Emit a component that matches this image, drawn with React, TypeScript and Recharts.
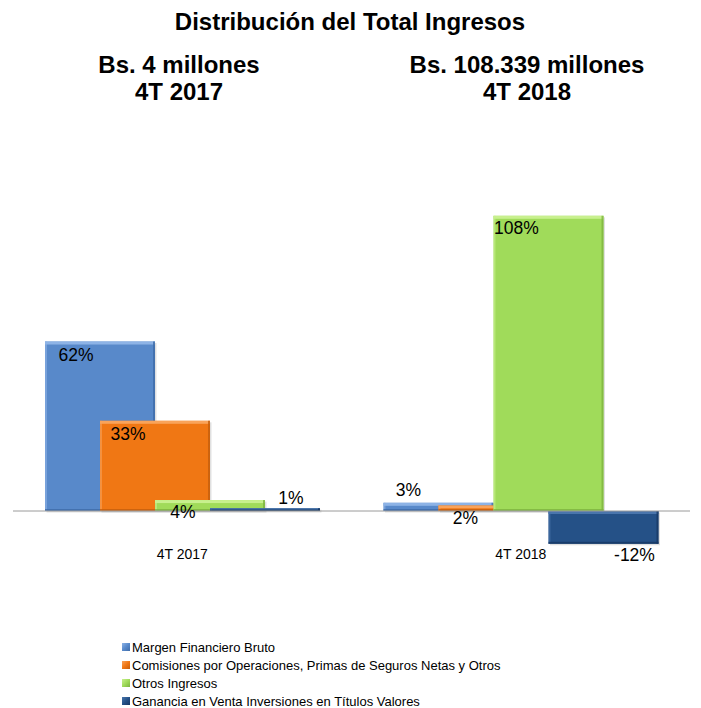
import React from 'react';
import { BarChart, Bar, XAxis, YAxis, ReferenceLine, Legend, LabelList } from 'recharts';

const categories = ['4T 2017', '4T 2018'];
const margenFinanciero = [62, 3];
const comisiones = [33, 2];
const otrosIngresos = [4, 108];
const gananciaVenta = [1, -12];

const seriesNames = [
  'Margen Financiero Bruto',
  'Comisiones por Operaciones, Primas de Seguros Netas y Otros',
  'Otros Ingresos',
  'Ganancia en Venta Inversiones en Títulos Valores',
];

const seriesKeys = ['s0', 's1', 's2', 's3'];
const seriesValues = [margenFinanciero, comisiones, otrosIngresos, gananciaVenta];

const palette = [
  { base: '#5889CA', light: '#8DB3E6', dark: '#3F6CA8' },
  { base: '#F07714', light: '#F9A35A', dark: '#C45E0C' },
  { base: '#A0DB5A', light: '#C8F08E', dark: '#7DB33F' },
  { base: '#255187', light: '#4A75AC', dark: '#173763' },
];

// label placement relative to each bar (layout, not data)
const labelLayout: Record<string, { ref: 'top' | 'bottom'; dx: number; dy: number }[]> = {
  s0: [
    { ref: 'top', dx: 31, dy: 13 },
    { ref: 'top', dx: 25, dy: -13 },
  ],
  s1: [
    { ref: 'top', dx: 28, dy: 13 },
    { ref: 'bottom', dx: 27, dy: 7 },
  ],
  s2: [
    { ref: 'bottom', dx: 28, dy: 1 },
    { ref: 'top', dx: 23, dy: 12 },
  ],
  s3: [
    { ref: 'top', dx: 81, dy: -10 },
    { ref: 'bottom', dx: 86, dy: 11 },
  ],
};

const data = categories.map((category, i) => {
  const row: Record<string, string | number> = { category };
  seriesKeys.forEach((k, s) => {
    row[k] = seriesValues[s][i];
  });
  return row;
});

const FONT = '"Liberation Sans", Arial, sans-serif';

const makeShape = (idx: number) => (props: any) => {
  const { x, y, width, height } = props;
  const top = Math.min(y, y + height);
  const h = Math.abs(height);
  const c = palette[idx];
  if (!h || !width) return <g />;
  const edge = Math.min(2, h / 2);
  return (
    <g>
      <rect x={x + 1.5} y={top + 1.5} width={width} height={h} fill="rgba(0,0,0,0.12)" />
      <rect x={x} y={top} width={width} height={h} fill={c.base} />
      <rect x={x} y={top} width={width} height={Math.min(3, h / 2)} fill={c.light} />
      <rect x={x} y={top} width={2} height={h} fill={c.light} opacity={0.6} />
      <rect x={x + width - 2} y={top} width={2} height={h} fill={c.dark} opacity={0.8} />
      <rect x={x} y={top + h - edge} width={width} height={edge} fill={c.dark} opacity={0.8} />
    </g>
  );
};

const makeLabel = (key: string) => (props: any) => {
  const { x, y, width, height, value, index } = props;
  const top = Math.min(y, y + height);
  const bottom = Math.max(y, y + height);
  const lay = labelLayout[key][index];
  const ly = (lay.ref === 'top' ? top : bottom) + lay.dy;
  return (
    <text
      x={x + lay.dx}
      y={ly}
      textAnchor="middle"
      dominantBaseline="central"
      fontSize={17.5}
      fill="#000"
      fontFamily={FONT}
    >
      {`${value}%`}
    </text>
  );
};

const CategoryTick = (props: any) => {
  const { x, y, payload } = props;
  return (
    <text x={x} y={y} dy={-42} textAnchor="middle" fontSize={14} fill="#000" fontFamily={FONT}>
      {payload.value}
    </text>
  );
};

const LegendContent = (props: any) => {
  const payload = [...(props.payload || [])].sort(
    (a: any, b: any) => seriesKeys.indexOf(a.dataKey) - seriesKeys.indexOf(b.dataKey)
  );
  return (
    <div style={{ fontFamily: FONT, fontSize: 13, color: '#000' }}>
      {payload.map((entry: any, i: number) => {
        const idx = seriesKeys.indexOf(entry.dataKey);
        const c = palette[idx >= 0 ? idx : i];
        return (
          <div key={i} style={{ display: 'flex', alignItems: 'center', height: 18, whiteSpace: 'nowrap' }}>
            <span
              style={{
                display: 'inline-block',
                width: 8,
                height: 8,
                marginRight: 2,
                background: `linear-gradient(135deg, ${c.light}, ${c.base} 50%, ${c.dark})`,
              }}
            />
            <span>{entry.value}</span>
          </div>
        );
      })}
    </div>
  );
};

const titleStyle: React.CSSProperties = {
  position: 'absolute',
  fontFamily: FONT,
  fontWeight: 'bold',
  textAlign: 'center',
  color: '#000',
  fontSize: 24,
  lineHeight: '27px',
  whiteSpace: 'nowrap',
};

export default function App() {
  return (
    <div style={{ position: 'absolute', left: 0, top: 0, width: 701, height: 708, background: '#fff' }}>
      <BarChart
        width={701}
        height={708}
        data={data}
        margin={{ top: 183, right: 11, left: 13, bottom: 85 }}
        barSize={110}
        barGap={-55}
      >
        <XAxis
          dataKey="category"
          axisLine={false}
          tickLine={false}
          tick={<CategoryTick />}
          interval={0}
          height={30}
        />
        <YAxis hide domain={[-30, 120]} />
        {seriesKeys.map((k, i) => (
          <Bar
            key={k}
            dataKey={k}
            name={seriesNames[i]}
            fill={palette[i].base}
            shape={makeShape(i)}
            isAnimationActive={false}
            legendType="square"
          >
            <LabelList dataKey={k} content={makeLabel(k)} />
          </Bar>
        ))}
        <ReferenceLine y={0} stroke="#9A9A9A" strokeWidth={1} />
        <Legend
          layout="vertical"
          align="center"
          verticalAlign="middle"
          content={<LegendContent />}
          wrapperStyle={{ left: 122, top: 638, width: 520, height: 80, bottom: 'auto', right: 'auto' }}
        />
      </BarChart>
      <div style={{ ...titleStyle, left: 150, width: 400, top: 8 }}>Distribución del Total Ingresos</div>
      <div style={{ ...titleStyle, left: 29, width: 300, top: 51 }}>
        Bs. 4 millones
        <br />
        4T 2017
      </div>
      <div style={{ ...titleStyle, left: 377, width: 300, top: 51 }}>
        Bs. 108.339 millones
        <br />
        4T 2018
      </div>
    </div>
  );
}
